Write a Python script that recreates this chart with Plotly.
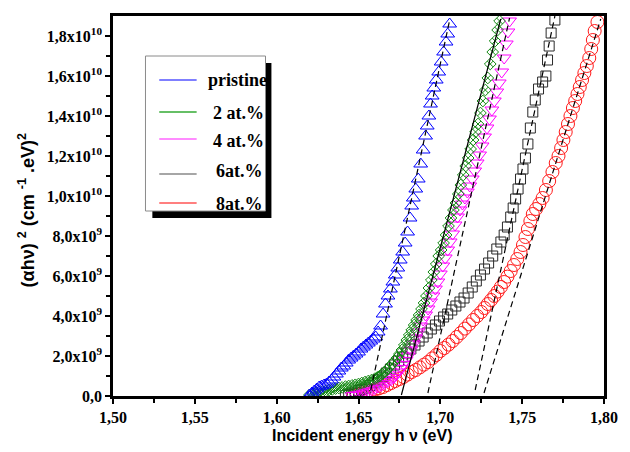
import plotly.graph_objects as go

# ---------------- data (x in eV, y in units of 1e9 (cm^-1.eV)^2) ----------------
pristine_x = [1.6200, 1.6215, 1.6230, 1.6245, 1.6260, 1.6275, 1.6290, 1.6305, 1.6320, 1.6335,
              1.6350, 1.6365, 1.6380, 1.6395, 1.6410, 1.6425, 1.6440, 1.6455, 1.6470, 1.6485,
              1.6500, 1.6515, 1.6530, 1.6545, 1.6560, 1.6575, 1.6590, 1.6605, 1.6620, 1.6635,
              1.6650, 1.6665, 1.6680, 1.6695, 1.6710, 1.6725, 1.6740, 1.6755, 1.6770, 1.6785,
              1.6800, 1.6815, 1.6825, 1.6835, 1.6850, 1.6865, 1.6880, 1.6895, 1.6910, 1.6920,
              1.6930, 1.6940, 1.6950, 1.6960, 1.6975, 1.6990, 1.7005, 1.7020, 1.7035, 1.7045,
              1.7057]
pristine_y = [0.05, 0.15, 0.25, 0.35, 0.45, 0.50, 0.55, 0.60, 0.70, 0.80,
              0.95, 1.10, 1.25, 1.40, 1.50, 1.65, 1.80, 1.90, 2.00, 2.10,
              2.20, 2.35, 2.45, 2.55, 2.65, 2.75, 2.85, 2.95, 3.20, 3.50,
              4.10, 4.60, 5.00, 5.35, 5.70, 6.05, 6.40, 6.80, 7.20, 7.65,
              8.20, 8.90, 9.50, 9.90, 10.35, 10.85, 11.60, 12.30, 13.00, 13.50,
              14.00, 14.60, 15.00, 15.40, 15.80, 16.20, 16.70, 17.20, 17.70, 18.10,
              18.60]

at2_x = [1.6200, 1.6220, 1.6240, 1.6260, 1.6280, 1.6300, 1.6320, 1.6340, 1.6360, 1.6380,
         1.6400, 1.6420, 1.6440, 1.6460, 1.6480, 1.6500, 1.6520, 1.6540, 1.6560, 1.6580,
         1.6600, 1.6615, 1.6630, 1.6645, 1.6660, 1.6675, 1.6690, 1.6705, 1.6720, 1.6735,
         1.6750, 1.6765, 1.6780, 1.6795, 1.6810, 1.6825, 1.6840, 1.6855, 1.6870, 1.6885,
         1.6900, 1.6915, 1.6930, 1.6945, 1.6960, 1.6975, 1.6990, 1.7005, 1.7020, 1.7035,
         1.7050, 1.7065, 1.7080, 1.7095, 1.7110, 1.7125, 1.7140, 1.7155, 1.7170, 1.7185,
         1.7200, 1.7215, 1.7230, 1.7245, 1.7260, 1.7275, 1.7290, 1.7305, 1.7320, 1.7335,
         1.7350, 1.7362]
at2_y = [0.05, 0.10, 0.15, 0.20, 0.22, 0.25, 0.30, 0.33, 0.37, 0.40,
         0.43, 0.47, 0.50, 0.53, 0.56, 0.60, 0.65, 0.70, 0.75, 0.80,
         0.87, 0.93, 1.00, 1.10, 1.20, 1.32, 1.45, 1.60, 1.75, 1.90,
         2.10, 2.30, 2.55, 2.80, 3.05, 3.30, 3.55, 3.80, 4.05, 4.35,
         4.65, 5.00, 5.40, 5.80, 6.20, 6.60, 7.00, 7.30, 7.65, 8.05,
         8.50, 8.90, 9.30, 9.65, 10.10, 10.55, 11.05, 11.50, 11.90, 12.35,
         12.80, 13.20, 13.60, 14.15, 14.75, 15.30, 15.90, 16.60, 17.20, 17.75,
         18.30, 18.75]

at4_x = [1.6460, 1.6480, 1.6500, 1.6520, 1.6540, 1.6560, 1.6580, 1.6600, 1.6620, 1.6640,
         1.6660, 1.6680, 1.6700, 1.6715, 1.6730, 1.6745, 1.6760, 1.6775, 1.6790, 1.6805,
         1.6820, 1.6835, 1.6850, 1.6865, 1.6880, 1.6895, 1.6910, 1.6925, 1.6940, 1.6955,
         1.6970, 1.6985, 1.7000, 1.7015, 1.7030, 1.7045, 1.7060, 1.7075, 1.7090, 1.7105,
         1.7120, 1.7135, 1.7150, 1.7165, 1.7180, 1.7195, 1.7210, 1.7225, 1.7240, 1.7255,
         1.7270, 1.7285, 1.7300, 1.7315, 1.7330, 1.7345, 1.7360, 1.7375, 1.7390, 1.7403,
         1.7413, 1.7423]
at4_y = [0.02, 0.06, 0.10, 0.15, 0.20, 0.25, 0.30, 0.37, 0.45, 0.53,
         0.62, 0.72, 0.82, 0.92, 1.05, 1.20, 1.38, 1.58, 1.78, 2.00,
         2.30, 2.60, 2.90, 3.20, 3.50, 3.80, 4.05, 4.35, 4.70, 5.00,
         5.35, 5.70, 6.10, 6.50, 6.90, 7.30, 7.70, 8.10, 8.55, 8.95,
         9.30, 9.60, 9.90, 10.20, 10.50, 10.85, 11.25, 11.65, 12.05, 12.50,
         12.95, 13.40, 13.85, 14.30, 14.75, 15.20, 15.65, 16.20, 16.90, 17.60,
         18.20, 18.75]

at6_x = [1.6420, 1.6440, 1.6460, 1.6480, 1.6500, 1.6520, 1.6545, 1.6570, 1.6595, 1.6620,
         1.6648, 1.6670, 1.6695, 1.6720, 1.6745, 1.6770, 1.6795, 1.6820, 1.6845, 1.6870,
         1.6895, 1.6920, 1.6945, 1.6970, 1.6995, 1.7020, 1.7045, 1.7070, 1.7095, 1.7120,
         1.7145, 1.7170, 1.7195, 1.7220, 1.7245, 1.7270, 1.7295, 1.7320, 1.7345, 1.7370,
         1.7390, 1.7410, 1.7430, 1.7445, 1.7460, 1.7475, 1.7490, 1.7505, 1.7520, 1.7535,
         1.7550, 1.7565, 1.7580, 1.7600, 1.7625, 1.7645, 1.7655, 1.7665, 1.7677, 1.7700]
at6_y = [0.02, 0.08, 0.14, 0.20, 0.27, 0.33, 0.40, 0.52, 0.66, 0.80,
         0.95, 1.15, 1.35, 1.55, 1.75, 1.95, 2.15, 2.35, 2.55, 2.75,
         2.95, 3.15, 3.35, 3.55, 3.75, 3.95, 4.10, 4.30, 4.50, 4.70,
         4.90, 5.15, 5.45, 5.75, 6.05, 6.35, 6.65, 7.00, 7.35, 7.70,
         8.05, 8.45, 8.95, 9.40, 9.85, 10.35, 10.85, 11.35, 11.90, 12.60,
         13.40, 14.20, 14.80, 15.35, 15.70, 16.00, 16.80, 17.50, 18.15, 18.80]

at8_x = [1.6470, 1.6490, 1.6510, 1.6530, 1.6550, 1.6575, 1.6600, 1.6625, 1.6650, 1.6675,
         1.6700, 1.6725, 1.6750, 1.6775, 1.6800, 1.6825, 1.6850, 1.6875, 1.6900, 1.6925,
         1.6950, 1.6975, 1.7000, 1.7025, 1.7050, 1.7075, 1.7100, 1.7125, 1.7150, 1.7175,
         1.7200, 1.7225, 1.7250, 1.7270, 1.7290, 1.7310, 1.7330, 1.7350, 1.7370, 1.7390,
         1.7410, 1.7430, 1.7450, 1.7470, 1.7490, 1.7505, 1.7520, 1.7535, 1.7550, 1.7565,
         1.7585, 1.7605, 1.7625, 1.7645, 1.7665, 1.7685, 1.7705, 1.7722, 1.7738, 1.7752,
         1.7766, 1.7780, 1.7795, 1.7810, 1.7824, 1.7838, 1.7852, 1.7866, 1.7880, 1.7895,
         1.7910, 1.7922, 1.7932, 1.7943, 1.7960]
at8_y = [0.02, 0.06, 0.10, 0.13, 0.17, 0.25, 0.32, 0.38, 0.45, 0.55,
         0.65, 0.75, 0.85, 0.95, 1.07, 1.20, 1.30, 1.43, 1.57, 1.70,
         1.88, 2.05, 2.25, 2.40, 2.57, 2.75, 2.95, 3.15, 3.37, 3.58,
         3.80, 4.00, 4.20, 4.40, 4.60, 4.80, 5.00, 5.22, 5.45, 5.70,
         5.97, 6.25, 6.55, 6.85, 7.20, 7.55, 7.95, 8.35, 8.75, 9.10,
         9.35, 9.60, 9.90, 10.30, 10.75, 11.20, 11.65, 12.00, 12.40, 12.80,
         13.20, 13.60, 14.00, 14.40, 14.75, 15.10, 15.45, 15.80, 16.15, 16.50,
         16.90, 17.35, 17.80, 18.25, 18.70]

# linear-fit (Tauc) extrapolation lines: [x_start, x_end], [y_start, y_end]
fit_pristine_x, fit_pristine_y = [1.6575, 1.7057], [0.3, 18.8]
fit_2at_x, fit_2at_y = [1.6762, 1.7369], [0.05, 18.85]
fit_4at_x, fit_4at_y = [1.6924, 1.7423], [0.15, 18.9]
fit_6at_x, fit_6at_y = [1.7213, 1.7700], [0.3, 19.0]
fit_8at_x, fit_8at_y = [1.7267, 1.7980], [0.15, 18.85]

series_names = ["pristine", "2 at.%", "4 at.%", "6at.%", "8at.%"]

x_tickvals = [1.50, 1.55, 1.60, 1.65, 1.70, 1.75, 1.80]
x_ticktext = ["1,50", "1,55", "1,60", "1,65", "1,70", "1,75", "1,80"]
x_minor = [1.525, 1.575, 1.625, 1.675, 1.725, 1.775]
y_tickvals = [0, 2, 4, 6, 8, 10, 12, 14, 16, 18]
y_ticktext = ["0,0", "2,0x10<sup>9</sup>", "4,0x10<sup>9</sup>", "6,0x10<sup>9</sup>",
              "8,0x10<sup>9</sup>", "1,0x10<sup>10</sup>", "1,2x10<sup>10</sup>",
              "1,4x10<sup>10</sup>", "1,6x10<sup>10</sup>", "1,8x10<sup>10</sup>"]
y_minor = [1, 3, 5, 7, 9, 11, 13, 15, 17]

# ---------------- figure ----------------
fig = go.Figure()

def add_markers(x, y, symbol, color, size, lw=1.0):
    fig.add_trace(go.Scatter(x=x, y=y, mode="markers", showlegend=False,
                             marker=dict(symbol=symbol, size=size, color=color,
                                         line=dict(color=color, width=lw))))

add_markers(at8_x, at8_y, "circle-open", "#ff1a1a", 13)
add_markers(at6_x, at6_y, "square-open", "#2a2a2a", 10)
add_markers(at4_x, at4_y, "triangle-down-open", "#ff00ff", 12)
add_markers(at2_x, at2_y, "diamond-x-open", "#118811", 9)
add_markers(pristine_x, pristine_y, "triangle-up-open", "#0000ff", 12)

for fx, fy, dash in [(fit_pristine_x, fit_pristine_y, "dash"),
                     (fit_2at_x, fit_2at_y, "solid"),
                     (fit_4at_x, fit_4at_y, "dash"),
                     (fit_6at_x, fit_6at_y, "dash"),
                     (fit_8at_x, fit_8at_y, "dash")]:
    fig.add_trace(go.Scatter(x=fx, y=fy, mode="lines", showlegend=False,
                             line=dict(color="black", width=1.2,
                                       dash="solid" if dash == "solid" else "6px,4px")))

tick_font = dict(family="Liberation Serif", size=16, color="black", weight="bold")

fig.update_xaxes(range=[1.5, 1.8], tickvals=x_tickvals, ticktext=x_ticktext,
                 ticks="outside", ticklen=5, tickwidth=1.5, tickcolor="black",
                 minor=dict(tickvals=x_minor, ticks="outside", ticklen=4, tickwidth=1.5, tickcolor="black"),
                 showline=True, linewidth=2.5, linecolor="black", mirror=True,
                 showgrid=False, zeroline=False, tickfont=tick_font)
fig.update_yaxes(range=[0, 19], tickvals=y_tickvals, ticktext=y_ticktext,
                 ticks="outside", ticklen=5, tickwidth=1.5, tickcolor="black",
                 minor=dict(tickvals=y_minor, ticks="outside", ticklen=4, tickwidth=1.5, tickcolor="black"),
                 showline=True, linewidth=2.5, linecolor="black", mirror=True,
                 showgrid=False, zeroline=False, tickfont=tick_font)

W, H = 630, 452
L, R, T, B = 113, 18, 16, 56
pw, ph = W - L - R, H - T - B

def px(xp):
    return (xp - L) / pw

def py(yp):
    return (H - B - yp) / ph

shapes = []
# legend shadow and box
shapes.append(dict(type="rect", xref="paper", yref="paper", x0=px(153), x1=px(274), y0=py(218), y1=py(63),
                   fillcolor="black", line=dict(width=0), layer="above"))
shapes.append(dict(type="rect", xref="paper", yref="paper", x0=px(146), x1=px(268), y0=py(211), y1=py(56),
                   fillcolor="white", line=dict(color="#8a8a8a", width=1), layer="above"))
legend_colors = ["#5555ff", "#33aa33", "#ff66ff", "#888888", "#ff5555"]
legend_line_y = [80, 112, 139, 174, 203]
legend_text_x = [208, 213, 213, 216, 216]
legend_text_y = [80, 113, 141, 171, 204]
annotations = []
for c, ly, name, tx, ty in zip(legend_colors, legend_line_y, series_names, legend_text_x, legend_text_y):
    shapes.append(dict(type="line", xref="paper", yref="paper", x0=px(160), x1=px(198), y0=py(ly), y1=py(ly),
                       line=dict(color=c, width=1.5), layer="above"))
    annotations.append(dict(xref="paper", yref="paper", x=px(tx), y=py(ty), xanchor="left", yanchor="middle",
                            text=name, showarrow=False,
                            font=dict(family="Liberation Serif", size=18, color="black", weight="bold")))

annotations.append(dict(xref="paper", yref="paper", x=px(366), y=py(436), xanchor="center", yanchor="middle",
                        text="Incident energy h ν (eV)", showarrow=False,
                        font=dict(family="Liberation Sans", size=16, color="black", weight="bold")))
annotations.append(dict(xref="paper", yref="paper", x=px(25), y=py(210), xanchor="center", yanchor="middle",
                        text="(αhν) <sup>2</sup> (cm <sup>-1</sup> .eV)<sup>2</sup>", textangle=-90, showarrow=False,
                        font=dict(family="Liberation Sans", size=18, color="black", weight="bold")))

fig.update_layout(width=W, height=H, margin=dict(l=L, r=R, t=T, b=B),
                  plot_bgcolor="white", paper_bgcolor="white", showlegend=False,
                  shapes=shapes, annotations=annotations)

fig.write_html("out.html", config={"displayModeBar": False},
               post_script="document.body.style.margin='0';")
